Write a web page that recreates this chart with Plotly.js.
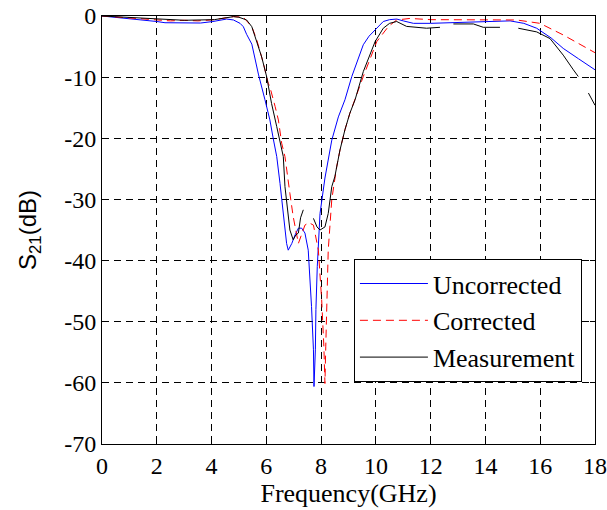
<!DOCTYPE html>
<html>
<head>
<meta charset="utf-8">
<script src="https://cdn.plot.ly/plotly-3.0.1.min.js"></script>
<style>
  html, body { margin: 0; padding: 0; background: #fff; }
  #chart { width: 607px; height: 510px; }
</style>
</head>
<body>
<div id="chart"></div>
<script>
// Uncorrected (blue)
const uncX = [0,0.5,1,1.5,2,2.3,2.7,3.2,3.6,4.05,4.3,4.55,4.8,5.04,5.16,5.28,5.47,5.71,5.95,6.13,6.25,6.38,6.5,6.62,6.74,6.8,6.93,7.05,7.17,7.29,7.41,7.53,7.59,7.65,7.72,7.74,7.79,7.81,7.86,7.96,8.14,8.39,8.63,8.87,9.12,9.33,9.54,9.75,9.97,10.27,10.5,10.76,11.0,11.37,12.0,13.0,13.92,14.9,15.4,15.87,16.4,16.84,17.4,17.94,18];
const uncY = [0,-0.2,-0.4,-0.7,-0.9,-1.1,-1.15,-1.1,-1.15,-0.9,-0.7,-0.5,-0.65,-1.2,-1.75,-3.0,-4.6,-9.5,-13.7,-17.0,-20.0,-23.0,-27.4,-32.8,-37.2,-38.3,-37.2,-35.8,-34.7,-34.7,-35.5,-38.3,-42.6,-47.5,-54.6,-60.6,-54.6,-48.0,-41.0,-32.3,-26.5,-20.3,-16.5,-13.7,-9.9,-7.2,-4.7,-3.3,-2.3,-0.9,-0.6,-0.5,-0.8,-1.2,-1.2,-1.1,-0.9,-0.8,-1.2,-2.0,-3.6,-5.3,-7.0,-8.6,-8.8];

// Corrected (red dashed)
const corX = [0,1,2,2.5,3,3.5,4.1,4.5,4.8,5.16,5.47,5.65,5.83,5.89,6.07,6.13,6.32,6.44,6.56,6.68,6.86,6.98,7.17,7.3,7.41,7.55,7.72,7.9,8.02,8.1,8.14,8.17,8.2,8.26,8.39,8.5,8.57,8.69,8.87,9.05,9.24,9.54,10.03,10.46,10.76,11.24,12.0,13.9,15.14,15.99,16.84,17.4,17.94,18];
const corY = [0,-0.3,-0.6,-0.8,-0.7,-0.8,-0.6,-0.3,-0.1,-0.2,-1.75,-3.9,-6.5,-7.7,-11.0,-11.6,-14.8,-17.0,-20.8,-23.0,-29.0,-32.8,-37.2,-35.5,-34.2,-33.8,-34.2,-38.3,-46.4,-54.0,-60.1,-54.0,-49.2,-38.3,-30.0,-26.3,-24.6,-21.9,-18.6,-15.9,-13.7,-9.9,-4.2,-1.7,-0.65,-0.4,-0.6,-0.7,-0.65,-1.2,-3.1,-4.5,-5.8,-6.0];

// Measurement (black, with visible breaks)
const meaX = [0,1,2,3,4.1,4.5,4.8,5.0,5.28,5.47,5.59,5.71,5.83,6.01,6.19,6.38,6.5,6.62,6.68,6.86,6.98,7.08,7.17,7.25,7.35,null,7.72,7.85,7.96,8.05,8.14,8.26,8.39,8.5,8.69,8.87,9.05,9.24,9.54,9.97,10.27,10.5,10.76,11.12,11.5,11.85,12.34,null,12.83,13.56,13.92,14.53,null,15.2,15.87,16.36,16.84,17.21,17.39,null,17.76,18];
const meaY = [0,-0.2,-0.5,-0.7,-0.6,-0.3,-0.1,-0.2,-0.65,-1.75,-3.4,-5.3,-6.7,-9.9,-14.3,-18.1,-20.8,-23.0,-27.9,-35.0,-36.6,-35.8,-35.5,-33.0,-31.7,null,-33.1,-34.5,-35.0,-34.8,-34.5,-32.3,-27.9,-26.3,-21.9,-18.6,-15.9,-13.7,-9.1,-4.2,-2.0,-1.2,-0.9,-1.7,-1.8,-2.0,-1.85,null,-1.3,-1.3,-1.85,-1.85,null,-2.0,-2.6,-3.7,-6.4,-8.8,-9.9,null,-12.6,-14.6];

const xTicks = [0,2,4,6,8,10,12,14,16,18];
const yTicks = [0,-10,-20,-30,-40,-50,-60,-70];

const serif = 'Liberation Serif, Times New Roman, serif';
const sans = 'Liberation Sans, Arial, sans-serif';

const traces = [
  { x: uncX, y: uncY, name: 'Uncorrected', mode: 'lines', line: { color: '#0000ff', width: 1 } },
  { x: corX, y: corY, name: 'Corrected', mode: 'lines', line: { color: '#ff0000', width: 1, dash: '8px,5px' } },
  { x: meaX, y: meaY, name: 'Measurement', mode: 'lines', connectgaps: false, line: { color: '#000000', width: 1 } }
];

const axisCommon = {
  showline: true, linecolor: '#000', linewidth: 1, mirror: 'ticks',
  ticks: 'inside', ticklen: 5, tickcolor: '#000',
  showgrid: true, gridcolor: '#000', gridwidth: 1, griddash: '7px,5px',
  zeroline: false, fixedrange: true
};

const layout = {
  width: 607, height: 510,
  margin: { l: 102, r: 12, t: 16, b: 66 },
  paper_bgcolor: '#fff', plot_bgcolor: '#fff',
  showlegend: true,
  xaxis: Object.assign({}, axisCommon, {
    range: [0, 18], tickvals: xTicks, ticktext: xTicks.map(String),
    tickfont: { family: serif, size: 24, color: '#000' },
    title: { text: 'Frequency(GHz)', font: { family: serif, size: 26, color: '#000' }, standoff: 0 }
  }),
  yaxis: Object.assign({}, axisCommon, {
    range: [-70, 0], tickvals: yTicks, ticktext: yTicks.map(String),
    tickfont: { family: serif, size: 24, color: '#000' },
    title: { text: 'S<sub>21</sub>(dB)', font: { family: sans, size: 24, color: '#000' }, standoff: 20 }
  }),
  legend: {
    x: 0.511, y: 0.432, xanchor: 'left', yanchor: 'top',
    bgcolor: '#fff', bordercolor: '#000', borderwidth: 1,
    font: { family: serif, size: 26, color: '#000' },
    itemwidth: 68,
    tracegroupgap: 0
  }
};

Plotly.newPlot('chart', traces, layout, { displayModeBar: false, staticPlot: true });
</script>
</body>
</html>
